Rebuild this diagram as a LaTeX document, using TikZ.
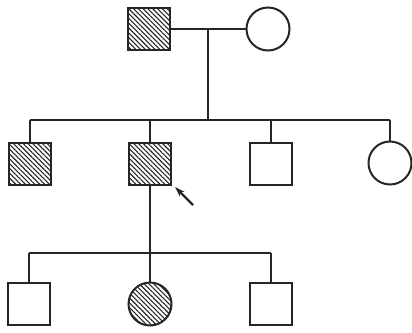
\documentclass[tikz,border=0pt]{standalone}
\usetikzlibrary{patterns.meta,arrows.meta}
\tikzset{
  line/.style={line width=2pt, draw=black!85},
  male/.style={line, rectangle, minimum size=42pt, inner sep=0pt},
  female/.style={line, circle, minimum size=43pt, inner sep=0pt},
  affected/.style={pattern={Lines[angle=-45, distance=3.4pt, line width=1.1pt]}, pattern color=black!85},
}
\begin{document}
\begin{tikzpicture}[x=1pt,y=-1pt]
\useasboundingbox (0,0) rectangle (412,332);
% generation I
\node[male, affected] (f) at (149,29) {};
\node[female] (m) at (268,29) {};
\coordinate (mid) at (208,29);
\coordinate (s1) at (208,120);
\draw[line] (f.east) -- (m.west);
\draw[line] (mid) -- (s1);
% generation II
\node[male, affected] (a) at (30,164) {};
\node[male, affected] (b) at (150,164) {};
\node[male] (c) at (271,164) {};
\node[female] (d) at (390,163) {};
\coordinate (l1) at (30,120);
\coordinate (r1) at (390,120);
\coordinate (t2) at (150,120);
\coordinate (t3) at (271,120);
\draw[line] (l1) -- (r1);
\draw[line] (l1) -- (a.north);
\draw[line] (t2) -- (b.north);
\draw[line] (t3) -- (c.north);
\draw[line] (r1) -- (d.north);
% proband arrow
\coordinate (tail) at (193,205);
\coordinate (head) at (175,187);
\draw[line width=2.2pt, draw=black!85, -{Stealth[length=10pt,width=6.5pt]}] (tail) -- (head);
% generation III
\coordinate (s2) at (150,253);
\draw[line] (b.south) -- (s2);
\node[male] (e) at (29,304) {};
\node[female, affected] (g) at (150,304) {};
\node[male] (h) at (271,304) {};
\coordinate (l2) at (29,253);
\coordinate (r2) at (271,253);
\draw[line] (l2) -- (r2);
\draw[line] (l2) -- (e.north);
\draw[line] (s2) -- (g.north);
\draw[line] (r2) -- (h.north);
\end{tikzpicture}
\end{document}
